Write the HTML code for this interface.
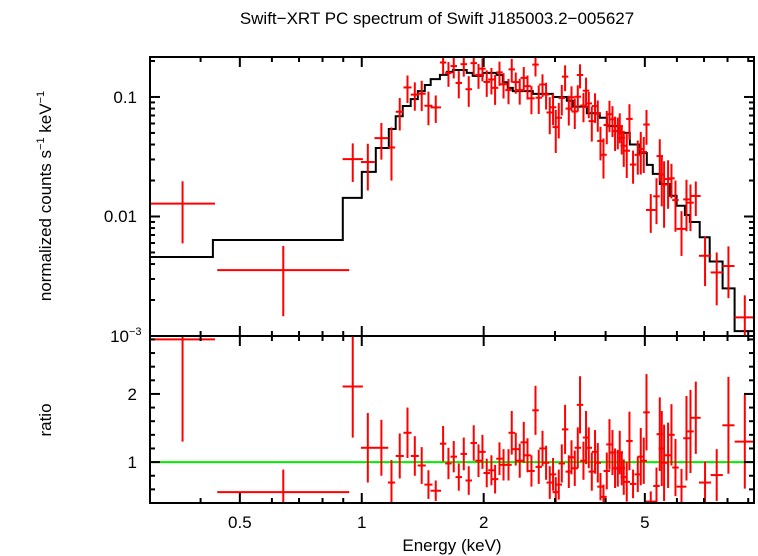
<!DOCTYPE html>
<html><head><meta charset="utf-8"><style>
html,body{margin:0;padding:0;background:#fff;}
svg{display:block;font-family:"Liberation Sans",sans-serif;}
</style></head><body>
<svg id="chart" width="758" height="556" viewBox="0 0 758 556" xmlns="http://www.w3.org/2000/svg">
<text x="437" y="24" font-size="17" text-anchor="middle">Swift−XRT PC spectrum of Swift J185003.2−005627</text>
<text transform="translate(51,196) rotate(-90)" font-size="17" text-anchor="middle">normalized counts s<tspan font-size="11" dy="-7">−1</tspan><tspan dy="7"> keV</tspan><tspan font-size="11" dy="-7">−1</tspan></text>
<text transform="translate(51,420) rotate(-90)" font-size="17" text-anchor="middle">ratio</text>
<text x="452" y="551" font-size="17" text-anchor="middle">Energy (keV)</text>
<g id="g"></g>
</svg>
<script>
const xTicksMajor=[0.5,1,2,5];
const xTickLabels=["0.5","1","2","5"];
const xTicksMinor=[0.3,0.4,0.6,0.7,0.8,0.9,3,4,6,7,8,9];
const modelEdges=[0.30,0.429,0.898,1,1.083,1.166,1.213,1.262,1.321,1.375,1.431,1.480,1.559,1.622,1.679,1.816,1.879,1.99,2.153,2.23,2.293,2.36,2.644,2.963,3.208,3.32,3.594,3.87,4.03,4.335,4.59,4.857,5.055,5.23,5.445,5.76,5.99,6.28,6.456,6.83,7.23,7.78,8.33,9.34];
const modelVals=[0.00458,0.00636,0.0143,0.0236,0.0374,0.054,0.069,0.084,0.096,0.112,0.126,0.141,0.153,0.162,0.168,0.159,0.15,0.159,0.153,0.133,0.119,0.112,0.106,0.1,0.093,0.083,0.073,0.067,0.057,0.05,0.04,0.034,0.027,0.0227,0.0187,0.0149,0.0123,0.0103,0.009,0.0067,0.0042,0.0025,0.0011];
const dataE=[0.361,0.64,0.95,1.035,1.118,1.184,1.241,1.297,1.352,1.406,1.461,1.523,1.588,1.637,1.687,1.736,1.786,1.837,1.890,1.942,1.986,2.035,2.090,2.134,2.188,2.239,2.303,2.346,2.400,2.455,2.512,2.566,2.624,2.685,2.735,2.794,2.852,2.912,2.967,3.013,3.065,3.118,3.177,3.245,3.295,3.357,3.415,3.459,3.527,3.579,3.635,3.698,3.767,3.826,3.885,3.952,4.027,4.089,4.159,4.221,4.287,4.335,4.385,4.435,4.511,4.581,4.676,4.803,4.885,4.969,5.047,5.171,5.342,5.443,5.505,5.578,5.706,5.817,5.951,6.158,6.335,6.481,6.680,7.041,7.523,8.042,8.826];
const dataHW=[0.08,0.163,0.025,0.017,0.017,0.009,0.01,0.01,0.01,0.01,0.01,0.013,0.008,0.008,0.008,0.008,0.008,0.008,0.008,0.008,0.008,0.008,0.008,0.008,0.008,0.008,0.008,0.008,0.008,0.008,0.008,0.008,0.008,0.008,0.008,0.008,0.008,0.008,0.008,0.008,0.008,0.008,0.008,0.008,0.008,0.008,0.008,0.008,0.008,0.008,0.008,0.008,0.008,0.008,0.008,0.008,0.008,0.008,0.008,0.008,0.008,0.008,0.008,0.008,0.008,0.008,0.008,0.008,0.008,0.008,0.008,0.012,0.008,0.008,0.008,0.008,0.008,0.008,0.008,0.012,0.008,0.008,0.012,0.015,0.015,0.015,0.025];
const ratioVals=[2.8,0.56,2.11,1.21,1.21,0.70,1.09,1.43,1.09,0.95,0.67,0.58,1.27,0.98,1.08,0.78,1.12,0.73,1.28,1.02,1.15,0.84,0.88,0.75,1.05,0.96,0.96,1.43,1.19,1.02,1.29,1.10,0.87,1.76,0.93,1.20,0.99,0.70,0.82,0.56,0.67,0.98,1.48,0.86,1.07,0.91,1.21,1.84,1.02,1.36,1.21,0.86,1.15,0.99,0.64,0.49,0.87,1.26,1.14,0.91,0.91,1.14,0.91,0.78,0.71,1.31,0.68,0.82,1.08,1.02,1.73,0.42,0.65,1.41,1.20,0.99,1.10,1.40,0.92,0.64,1.35,1.45,1.65,0.70,0.81,1.54,1.30];
const ratioErr=[1.5,0.33,0.75,0.51,0.41,0.33,0.33,0.37,0.29,0.27,0.21,0.15,0.26,0.23,0.23,0.2,0.24,0.21,0.26,0.24,0.25,0.21,0.22,0.21,0.24,0.23,0.23,0.32,0.24,0.25,0.3,0.25,0.23,0.36,0.25,0.26,0.25,0.24,0.24,0.22,0.22,0.28,0.36,0.24,0.25,0.26,0.3,0.42,0.28,0.39,0.3,0.28,0.32,0.29,0.2,0.18,0.27,0.37,0.33,0.29,0.27,0.32,0.25,0.26,0.29,0.43,0.21,0.26,0.42,0.34,0.56,0.15,0.27,0.54,0.55,0.56,0.48,0.45,0.42,0.26,0.62,0.61,0.53,0.31,0.38,0.71,0.69];

const NS="http://www.w3.org/2000/svg";
const g=document.getElementById('g');
const L=150,R=754,T1=57,B1=336,B2=503;
const xMin=0.3,xMax=9.3;
function X(e){return L+(Math.log10(e)-Math.log10(xMin))/(Math.log10(xMax)-Math.log10(xMin))*(R-L);}
const yMin=0.001,yMax=0.216;
function Y1(v){return B1-(Math.log10(v)-Math.log10(yMin))/(Math.log10(yMax)-Math.log10(yMin))*(B1-T1);}
const rMin=0.4,rMax=2.85;
function Y2(r){return B2-(r-rMin)/(rMax-rMin)*(B2-B1);}
function el(t,a){const e=document.createElementNS(NS,t);for(const k in a)e.setAttribute(k,a[k]);g.appendChild(e);return e;}
function modelAt(e){for(let i=0;i<modelVals.length;i++){if(e>=modelEdges[i]&&e<modelEdges[i+1])return modelVals[i];}return modelVals[modelVals.length-1];}
function clampY1(y){return Math.max(T1,Math.min(B1,y));}
function clampY2(y){return Math.max(B1,Math.min(B2,y));}

let d="";
for(let i=0;i<modelVals.length;i++){
  const x0=X(modelEdges[i]),x1=Math.min(R,X(modelEdges[i+1])),y=clampY1(Y1(modelVals[i]));
  d+=(i===0?"M":"L")+x0.toFixed(1)+","+y.toFixed(1)+"L"+x1.toFixed(1)+","+y.toFixed(1);
}
let m=el('path',{d:d,fill:'none',stroke:'#000','stroke-width':2});



let u=el('line',{x1:L,x2:R,y1:Y2(1),y2:Y2(1),stroke:'#00ee00','stroke-width':2});



for(let i=0;i<dataE.length;i++){
  const e=dataE[i],mv=modelAt(e),r=ratioVals[i],re=ratioErr[i];
  const xl=Math.max(L,X(e/Math.pow(10,dataHW[i]))),xr=Math.min(R,X(e*Math.pow(10,dataHW[i]))),xc=X(e);
  const v=r*mv,hi=(r+re)*mv,lo=Math.max(1e-5,(r-re)*mv);
  const yc=Y1(v);
  if(yc>=T1&&yc<=B1){
    let h=el('line',{x1:xl,x2:xr,y1:yc,y2:yc,stroke:'#f00','stroke-width':2});
    
    
  }
  let vl=el('line',{x1:xc,x2:xc,y1:clampY1(Y1(hi)),y2:clampY1(Y1(lo)),stroke:'#f00','stroke-width':2});
  
  
  const rc=Y2(r);
  if(rc>=B1-1&&rc<=B2){
    let h2=el('line',{x1:xl,x2:xr,y1:Math.max(B1+3,rc),y2:Math.max(B1+3,rc),stroke:'#f00','stroke-width':2});
    
    
  }
  let v2=el('line',{x1:xc,x2:xc,y1:clampY2(Y2(r+re)),y2:clampY2(Y2(r-re)),stroke:'#f00','stroke-width':2});
  
  
}

let f1=el('rect',{x:L,y:T1,width:R-L,height:B1-T1,fill:'none',stroke:'#000','stroke-width':2});


let f2=el('rect',{x:L,y:B1,width:R-L,height:B2-B1,fill:'none',stroke:'#000','stroke-width':2});



function tick(x1,y1,x2,y2){let t=el('line',{x1:x1,y1:y1,x2:x2,y2:y2,stroke:'#000','stroke-width':2});}
function txt(s,x,y,anchor,name){let t=el('text',{x:x,y:y,'font-size':17,'text-anchor':anchor});t.textContent=s;return t;}

xTicksMajor.forEach((v,i)=>{const x=X(v);
  [[T1,10],[B1,-10],[B1,10],[B2,-10]].forEach(([y,l])=>tick(x,y,x,y+l));
  txt(xTickLabels[i],x,528,'middle','x-tick-label');
});
xTicksMinor.forEach(v=>{const x=X(v);
  [[T1,5],[B1,-5],[B1,5],[B2,-5]].forEach(([y,l])=>tick(x,y,x,y+l));
});
for(let dec=-3;dec<=-1;dec++){
  for(let k=1;k<=9;k++){const v=k*Math.pow(10,dec);if(v>yMax)continue;const y=Y1(v);
    const len=k===1?10:5;tick(L,y,L+len,y);tick(R,y,R-len,y);}
}
txt("0.1",137,103,'end','y-tick-label');
txt("0.01",137,222,'end','y-tick-label');
txt("10",129,342,'end','y-tick-label');
let sup=el('text',{x:129,y:335,'font-size':11,'text-anchor':'start'});sup.textContent="−3";


for(let r=0.4;r<=2.85;r+=0.2){const y=Y2(r);const maj=Math.abs(r-1)<0.01||Math.abs(r-2)<0.01;const len=maj?10:5;tick(L,y,L+len,y);tick(R,y,R-len,y);}
txt("2",137,400,'end','ratio-tick-label');
txt("1",137,468,'end','ratio-tick-label');
</script>
</body></html>
